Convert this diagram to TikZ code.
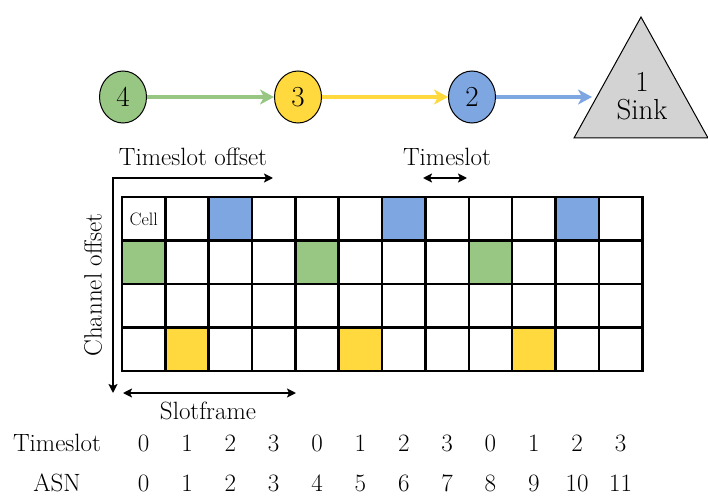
\documentclass[tikz,border=0pt]{standalone}
\usepackage{fontspec}
\usetikzlibrary{arrows.meta,shapes.geometric}

\definecolor{gfill}{RGB}{152,199,132}
\definecolor{bfill}{RGB}{126,166,224}
\definecolor{yfill}{RGB}{255,217,61}
\definecolor{tgray}{RGB}{211,211,211}

\newcommand{\cellw}{43.35}
\newcommand{\cellh}{43.5}

\begin{document}
\begin{tikzpicture}[x=1pt,y=-1pt,
  mote/.style={ellipse,draw=black,line width=1pt,minimum width=47pt,minimum height=52pt,
    inner sep=0pt,font=\fontsize{29}{31}\selectfont},
  link/.style={line width=3.5pt,-{Stealth[length=14pt,width=15pt,inset=4pt]}},
  axis/.style={line width=2.2pt,>={Stealth[length=9pt,width=9pt,inset=2pt]}},
  lbl/.style={font=\fontsize{25}{27}\selectfont,inner sep=0pt},
  num/.style={font=\fontsize{25}{27}\selectfont,inner sep=0pt},
  cellbox/.style={draw=black,line width=2.6pt,minimum width=\cellw pt,minimum height=\cellh pt,
    inner sep=0pt,outer sep=0pt},
]
\useasboundingbox (0,0) rectangle (708,497);

% routing chain
\node[mote,fill=gfill] (n4) at (123,97) {4};
\node[mote,fill=yfill] (n3) at (298,97) {3};
\node[mote,fill=bfill] (n2) at (472,97) {2};
\draw[fill=tgray,line width=1pt] (641,17) -- (708,138) -- (574,138) -- cycle;
\node[font=\fontsize{29}{31}\selectfont,align=center,inner sep=0pt] (sink) at (642,96)
  {1\\[-3pt]Sink};
\coordinate (sinkin) at (592,97);

\draw[link,gfill] (n4) -- (n3);
\draw[link,yfill] (n3) -- (n2);
\draw[link,bfill] (n2) -- (sinkin);

% slotframe cells
\foreach \r in {0,...,3}{
  \foreach \c in {0,...,11}{
    \node[cellbox] (cell-\r-\c) at ({122+\cellw*(\c+0.5)},{197+\cellh*(\r+0.5)}) {};
  }
}
\foreach \c in {2,6,10}{\node[cellbox,fill=bfill] at (cell-0-\c) {};}
\foreach \c in {0,4,8}{\node[cellbox,fill=gfill] at (cell-1-\c) {};}
\foreach \c in {1,5,9}{\node[cellbox,fill=yfill] at (cell-3-\c) {};}
\node[font=\fontsize{18}{19}\selectfont,inner sep=0pt] (celltxt) at ([yshift=-1pt]cell-0-0) {Cell};

% axes
\coordinate (corner) at (113,178);
\coordinate (tsend) at (273,178);
\coordinate (chend) at (113,393);
\draw[axis,<->] (chend) -- (corner) -- (tsend);
\node[lbl] (tsoff) at (193,157) {Timeslot offset};
\node[lbl,rotate=90] (choff) at (93,285) {Channel offset};

\coordinate (tsa) at (423,178);
\coordinate (tsb) at (467,178);
\draw[axis,<->] (tsa) -- (tsb);
\node[lbl] (tslbl) at (447,157) {Timeslot};

\coordinate (sfa) at (123,393);
\coordinate (sfb) at (296,393);
\draw[axis,<->] (sfa) -- (sfb);
\node[lbl] (sflbl) at (208,411) {Slotframe};

% timeslot and ASN numbering
\node[num] (tsrow) at (57,443) {Timeslot};
\node[num] (asnrow) at (57,483) {ASN};
\foreach \c in {0,...,11}{
  \pgfmathtruncatemacro{\ts}{mod(\c,4)}
  \node[num] (ts-\c) at ({122+\cellw*(\c+0.5)},443) {\ts};
  \node[num] (asn-\c) at ({122+\cellw*(\c+0.5)},483) {\c};
}
\end{tikzpicture}
\end{document}
